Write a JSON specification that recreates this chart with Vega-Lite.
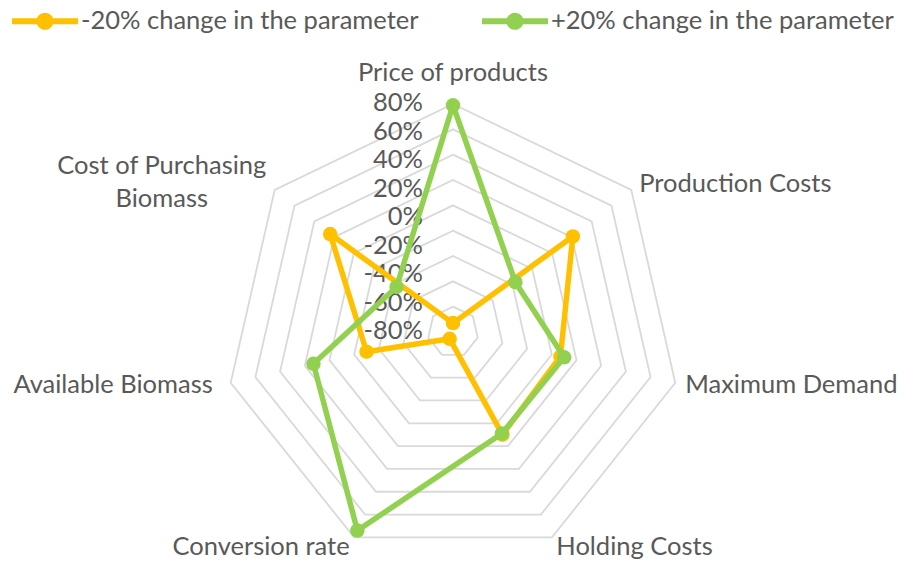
{
  "$schema": "https://vega.github.io/schema/vega-lite/v6.json",
  "width": 908,
  "height": 562,
  "autosize": "none",
  "padding": 0,
  "background": "white",
  "config": {"view": {"stroke": null}, "font": "Lato", "text": {"font": "Lato"}},
  "datasets": {
    "axes": [
      {"idx": 0, "name": "Price of products"},
      {"idx": 1, "name": "Production Costs"},
      {"idx": 2, "name": "Maximum Demand"},
      {"idx": 3, "name": "Holding Costs"},
      {"idx": 4, "name": "Conversion rate"},
      {"idx": 5, "name": "Available Biomass"},
      {"idx": 6, "name": "Cost of Purchasing\nBiomass"}
    ],
    "rings": [
      {"level": -80, "a0": 0, "a1": 1, "a2": 2, "a3": 3, "a4": 4, "a5": 5, "a6": 6},
      {"level": -60, "a0": 0, "a1": 1, "a2": 2, "a3": 3, "a4": 4, "a5": 5, "a6": 6},
      {"level": -40, "a0": 0, "a1": 1, "a2": 2, "a3": 3, "a4": 4, "a5": 5, "a6": 6},
      {"level": -20, "a0": 0, "a1": 1, "a2": 2, "a3": 3, "a4": 4, "a5": 5, "a6": 6},
      {"level": 0, "a0": 0, "a1": 1, "a2": 2, "a3": 3, "a4": 4, "a5": 5, "a6": 6},
      {"level": 20, "a0": 0, "a1": 1, "a2": 2, "a3": 3, "a4": 4, "a5": 5, "a6": 6},
      {"level": 40, "a0": 0, "a1": 1, "a2": 2, "a3": 3, "a4": 4, "a5": 5, "a6": 6},
      {"level": 60, "a0": 0, "a1": 1, "a2": 2, "a3": 3, "a4": 4, "a5": 5, "a6": 6},
      {"level": 80, "a0": 0, "a1": 1, "a2": 2, "a3": 3, "a4": 4, "a5": 5, "a6": 6}
    ],
    "ticks": [
      {"level": 80, "label": "80%"},
      {"level": 60, "label": "60%"},
      {"level": 40, "label": "40%"},
      {"level": 20, "label": "20%"},
      {"level": 0, "label": "0%"},
      {"level": -20, "label": "-20%"},
      {"level": -40, "label": "-40%"},
      {"level": -60, "label": "-60%"},
      {"level": -80, "label": "-80%"}
    ],
    "series": [
      {"s": "-20% change in the parameter", "idx": 0, "param": "Price of products", "v": -93},
      {"s": "-20% change in the parameter", "idx": 1, "param": "Production Costs", "v": 21},
      {"s": "-20% change in the parameter", "idx": 2, "param": "Maximum Demand", "v": -13},
      {"s": "-20% change in the parameter", "idx": 3, "param": "Holding Costs", "v": -10},
      {"s": "-20% change in the parameter", "idx": 4, "param": "Conversion rate", "v": -94},
      {"s": "-20% change in the parameter", "idx": 5, "param": "Available Biomass", "v": -30},
      {"s": "-20% change in the parameter", "idx": 6, "param": "Cost of Purchasing Biomass", "v": 24},
      {"s": "+20% change in the parameter", "idx": 0, "param": "Price of products", "v": 79},
      {"s": "+20% change in the parameter", "idx": 1, "param": "Production Costs", "v": -37},
      {"s": "+20% change in the parameter", "idx": 2, "param": "Maximum Demand", "v": -10},
      {"s": "+20% change in the parameter", "idx": 3, "param": "Holding Costs", "v": -11},
      {"s": "+20% change in the parameter", "idx": 4, "param": "Conversion rate", "v": 74},
      {"s": "+20% change in the parameter", "idx": 5, "param": "Available Biomass", "v": 13},
      {"s": "+20% change in the parameter", "idx": 6, "param": "Cost of Purchasing Biomass", "v": -43}
    ]
  },
  "resolve": {"scale": {"y": "independent"}},
  "layer": [
    {
      "data": {"name": "rings"},
      "transform": [
        {"fold": ["a0", "a1", "a2", "a3", "a4", "a5", "a6"], "as": ["k", "idx"]},
        {"calculate": "datum.idx * 2 * PI / 7", "as": "theta"},
        {"calculate": "(datum.level + 100) * sin(datum.theta)", "as": "px"},
        {"calculate": "(datum.level + 100) * cos(datum.theta)", "as": "py"}
      ],
      "mark": {"type": "line", "interpolate": "linear-closed", "stroke": "#D9D9D9", "strokeWidth": 1.8},
      "encoding": {
        "x": {"field": "px", "type": "quantitative", "scale": {"domain": [-357.6, 359.2], "nice": false, "zero": false}, "axis": null},
        "y": {"field": "py", "type": "quantitative", "scale": {"domain": [-181.6, 262.1], "nice": false, "zero": false}, "axis": null},
        "detail": {"field": "level", "type": "nominal"},
        "order": {"field": "idx", "type": "quantitative"}
      }
    },
    {
      "data": {"name": "ticks"},
      "mark": {"type": "text", "align": "right", "baseline": "middle", "dx": -30, "fontSize": 25.5, "fill": "#595959"},
      "encoding": {
        "x": {"datum": 0, "type": "quantitative"},
        "y": {"field": "level", "type": "quantitative", "scale": {"domain": [-242.1, 152.3], "nice": false, "zero": false}, "axis": null},
        "text": {"field": "label"}
      }
    },
    {
      "data": {"name": "series"},
      "transform": [
        {"filter": "datum.s === '-20% change in the parameter'"},
        {"calculate": "datum.idx * 2 * PI / 7", "as": "theta"},
        {"calculate": "(datum.v + 100) * sin(datum.theta)", "as": "px"},
        {"calculate": "(datum.v + 100) * cos(datum.theta)", "as": "py"}
      ],
      "mark": {"type": "line", "interpolate": "linear-closed", "strokeWidth": 5.5, "strokeJoin": "round"},
      "encoding": {
        "x": {"field": "px", "type": "quantitative"},
        "y": {"field": "py", "type": "quantitative", "scale": {"domain": [-181.6, 262.1], "nice": false, "zero": false}, "axis": null},
        "order": {"field": "idx", "type": "quantitative"},
        "color": {
          "field": "s", "type": "nominal",
          "scale": {"domain": ["-20% change in the parameter", "+20% change in the parameter"], "range": ["#FFC000", "#92D050"]},
          "legend": {
            "title": null, "orient": "none", "legendX": 12, "legendY": -12, "direction": "horizontal",
            "symbolType": "M-1,-0.09L1,-0.09L1,0.09L-1,0.09Z M-0.26,0A0.26,0.26 0 1,1 0.26,0A0.26,0.26 0 1,1 -0.26,0Z",
            "symbolSize": 4356, "symbolStrokeWidth": 0, "labelFontSize": 25.5, "labelColor": "#595959", "labelFont": "Lato",
            "labelOffset": 3, "columnPadding": 63, "labelLimit": 500, "padding": 0,
            "encode": {"symbols": {"update": {"fill": {"scale": "color", "field": "value"}, "stroke": {"value": "transparent"}, "opacity": {"value": 1}}}}
          }
        }
      }
    },
    {
      "data": {"name": "series"},
      "transform": [
        {"filter": "datum.s === '-20% change in the parameter'"},
        {"calculate": "datum.idx * 2 * PI / 7", "as": "theta"},
        {"calculate": "(datum.v + 100) * sin(datum.theta)", "as": "px"},
        {"calculate": "(datum.v + 100) * cos(datum.theta)", "as": "py"}
      ],
      "mark": {"type": "point", "filled": true, "size": 210, "opacity": 1, "shape": "circle"},
      "encoding": {
        "x": {"field": "px", "type": "quantitative"},
        "y": {"field": "py", "type": "quantitative", "scale": {"domain": [-181.6, 262.1], "nice": false, "zero": false}, "axis": null},
        "color": {"field": "s", "type": "nominal"}
      }
    },
    {
      "data": {"name": "series"},
      "transform": [
        {"filter": "datum.s === '+20% change in the parameter'"},
        {"calculate": "datum.idx * 2 * PI / 7", "as": "theta"},
        {"calculate": "(datum.v + 100) * sin(datum.theta)", "as": "px"},
        {"calculate": "(datum.v + 100) * cos(datum.theta)", "as": "py"}
      ],
      "mark": {"type": "line", "interpolate": "linear-closed", "strokeWidth": 5.5, "strokeJoin": "round"},
      "encoding": {
        "x": {"field": "px", "type": "quantitative"},
        "y": {"field": "py", "type": "quantitative", "scale": {"domain": [-181.6, 262.1], "nice": false, "zero": false}, "axis": null},
        "order": {"field": "idx", "type": "quantitative"},
        "color": {"field": "s", "type": "nominal"}
      }
    },
    {
      "data": {"name": "series"},
      "transform": [
        {"filter": "datum.s === '+20% change in the parameter'"},
        {"calculate": "datum.idx * 2 * PI / 7", "as": "theta"},
        {"calculate": "(datum.v + 100) * sin(datum.theta)", "as": "px"},
        {"calculate": "(datum.v + 100) * cos(datum.theta)", "as": "py"}
      ],
      "mark": {"type": "point", "filled": true, "size": 210, "opacity": 1, "shape": "circle"},
      "encoding": {
        "x": {"field": "px", "type": "quantitative"},
        "y": {"field": "py", "type": "quantitative", "scale": {"domain": [-181.6, 262.1], "nice": false, "zero": false}, "axis": null},
        "color": {"field": "s", "type": "nominal"}
      }
    },
    {
      "data": {"name": "axes"},
      "transform": [
        {"calculate": "datum.idx * 2 * PI / 7", "as": "theta"},
        {"calculate": "188 * sin(datum.theta)", "as": "px"},
        {"calculate": "188 * cos(datum.theta)", "as": "py"}
      ],
      "layer": [
        {
          "transform": [{"filter": "datum.idx >= 1 && datum.idx <= 3"}],
          "mark": {"type": "text", "align": "left", "baseline": "middle", "fontSize": 25.5, "fill": "#595959"}
        },
        {
          "transform": [{"filter": "datum.idx == 4"}],
          "mark": {"type": "text", "align": "right", "baseline": "middle", "fontSize": 25.5, "fill": "#595959"}
        },
        {
          "transform": [{"filter": "datum.idx == 5"}],
          "mark": {"type": "text", "align": "right", "baseline": "middle", "dx": -8, "fontSize": 25.5, "fill": "#595959"}
        },
        {
          "transform": [{"filter": "datum.idx == 0"}],
          "mark": {"type": "text", "align": "center", "baseline": "alphabetic", "dy": -13, "fontSize": 25.5, "fill": "#595959"}
        },
        {
          "transform": [{"filter": "datum.idx == 6"}],
          "mark": {"type": "text", "align": "center", "baseline": "middle", "dx": -105, "dy": -18, "lineBreak": "\n", "lineHeight": 33, "fontSize": 25.5, "fill": "#595959"}
        }
      ],
      "encoding": {
        "x": {"field": "px", "type": "quantitative"},
        "y": {"field": "py", "type": "quantitative", "scale": {"domain": [-181.6, 262.1], "nice": false, "zero": false}, "axis": null},
        "text": {"field": "name"}
      }
    }
  ]
}
